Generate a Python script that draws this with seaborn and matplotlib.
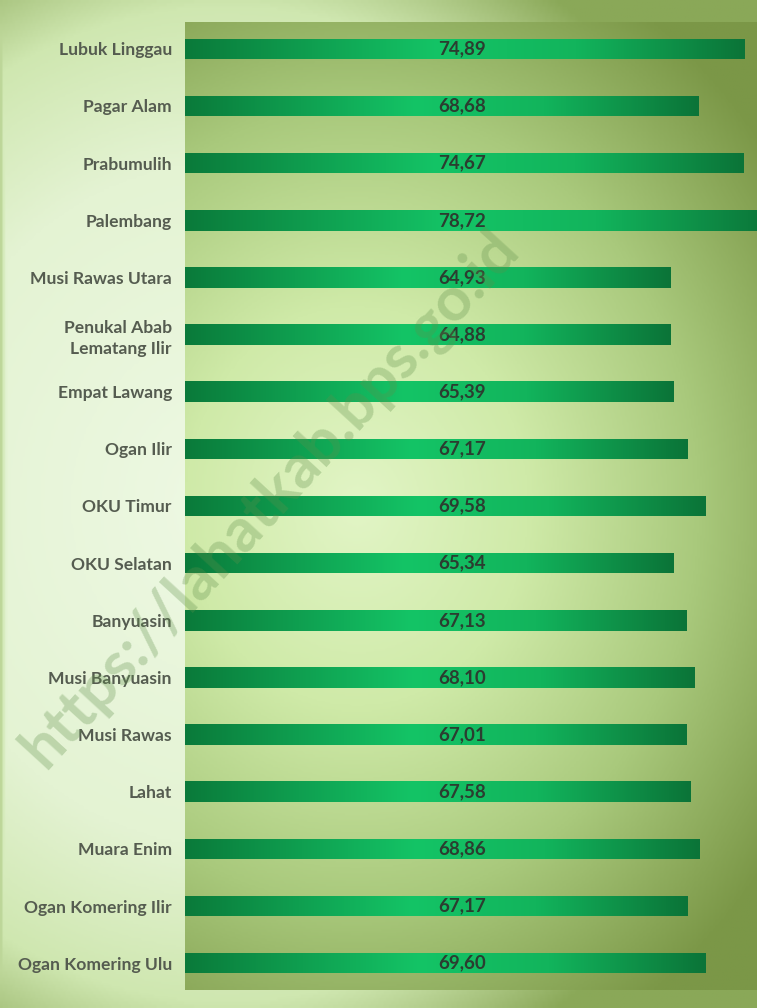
import numpy as np
import pandas as pd
import matplotlib
matplotlib.use("Agg")
import matplotlib.pyplot as plt
import seaborn as sns
from matplotlib.colors import LinearSegmentedColormap

regions = ["Lubuk Linggau", "Pagar Alam", "Prabumulih", "Palembang", "Musi Rawas Utara",
           "Penukal Abab\nLematang Ilir", "Empat Lawang", "Ogan Ilir", "OKU Timur",
           "OKU Selatan", "Banyuasin", "Musi Banyuasin", "Musi Rawas", "Lahat",
           "Muara Enim", "Ogan Komering Ilir", "Ogan Komering Ulu"]
values = [74.89, 68.68, 74.67, 78.72, 64.93, 64.88, 65.39, 67.17, 69.58,
          65.34, 67.13, 68.10, 67.01, 67.58, 68.86, 67.17, 69.60]
value_labels = ["74,89", "68,68", "74,67", "78,72", "64,93", "64,88", "65,39", "67,17", "69,58",
                "65,34", "67,13", "68,10", "67,01", "67,58", "68,86", "67,17", "69,60"]

df = pd.DataFrame({"region": regions, "value": values})

sns.set_theme(style="white")
plt.rcParams['font.family'] = ['Lato', 'DejaVu Sans']

W, H = 757, 1008
fig = plt.figure(figsize=(W / 100, H / 100), dpi=100)

# figure background gradient (light, darker toward left edge and corners)
bg = fig.add_axes([0, 0, 1, 1], zorder=0)
yy, xx = np.mgrid[0:1:300j, 0:1:300j]
d = np.sqrt(((xx - 0.3) / 0.75) ** 2 + ((yy - 0.5) / 0.62) ** 2)
d = np.maximum(d, 0.85 * (1 - xx / 0.02))
bg_cmap = LinearSegmentedColormap.from_list("bgc", [(0, "#eef9e4"), (0.55, "#e4f3d3"),
                                                    (0.8, "#cfe7b0"), (1, "#8aa858")])
bg.imshow(np.clip(d, 0, 1), cmap=bg_cmap, aspect="auto", extent=[0, 1, 0, 1], vmin=0, vmax=1)
bg.axis("off")

# main axes
left = 185 / W
bottom = (H - 990) / H
top = (H - 22) / H
ax = fig.add_axes([left, bottom, 1 - left, top - bottom], zorder=1)

sns.barplot(data=df, y="region", x="value", orient="h", ax=ax, width=0.36,
            color="#12b35c", edgecolor="none", saturation=1)

x0, x1 = 0, 76.5
n = len(regions)
ax.set_xlim(x0, x1)
ax.set_ylim(n - 0.53, -0.47)

# plot area gradient
py, px = np.mgrid[0:1:300j, 0:1:300j]
pd_ = np.sqrt(((px - 0.3) / 0.9) ** 2 + ((py - 0.5) / 0.62) ** 2)
pa_cmap = LinearSegmentedColormap.from_list("pac", ["#e2f5c6", "#cfeaa8", "#a9c97c", "#7b9747"])
ax.imshow(np.clip(pd_, 0, 1), cmap=pa_cmap, aspect="auto",
          extent=[x0, x1, n - 0.53, -0.47], vmin=0, vmax=1, zorder=0)

# gradient on bars
bar_cmap = LinearSegmentedColormap.from_list("barc", [(0, "#0a7a3a"), (0.45, "#14c466"),
                                                       (0.7, "#12b45c"), (1, "#0b7438")])
grad = np.linspace(0, 1, 256).reshape(1, -1)
for p in ax.patches:
    bx, by = p.get_x(), p.get_y()
    bw, bh = p.get_width(), p.get_height()
    im = ax.imshow(grad, cmap=bar_cmap, aspect="auto",
                   extent=[bx, bx + bw, by + bh, by], zorder=2)
    im.set_clip_path(p)
    p.set_zorder(1)

ax.set_xlim(x0, x1)
ax.set_ylim(n - 0.53, -0.47)

for i, lab in enumerate(value_labels):
    ax.text(37.0, i, lab, ha="center", va="center", fontsize=13.5, fontweight="bold",
            color="#2b3d30", zorder=3)

ax.set_xlabel("")
ax.set_ylabel("")
ax.set_xticks([])
ax.tick_params(axis="y", length=0, pad=9.5)
for t in ax.get_yticklabels():
    t.set_fontsize(12.6)
    t.set_fontweight("bold")
    t.set_color("#555c50")
    t.set_linespacing(1.35)
for s in ax.spines.values():
    s.set_visible(False)

# watermark
fig.text(0.357, 0.505, "https://lahatkab.bps.go.id", rotation=47.5, ha="center", va="center",
         fontsize=44, fontweight="bold", color="#5f8f4a", alpha=0.3, zorder=5)

fig.savefig("out.png", dpi=100)
